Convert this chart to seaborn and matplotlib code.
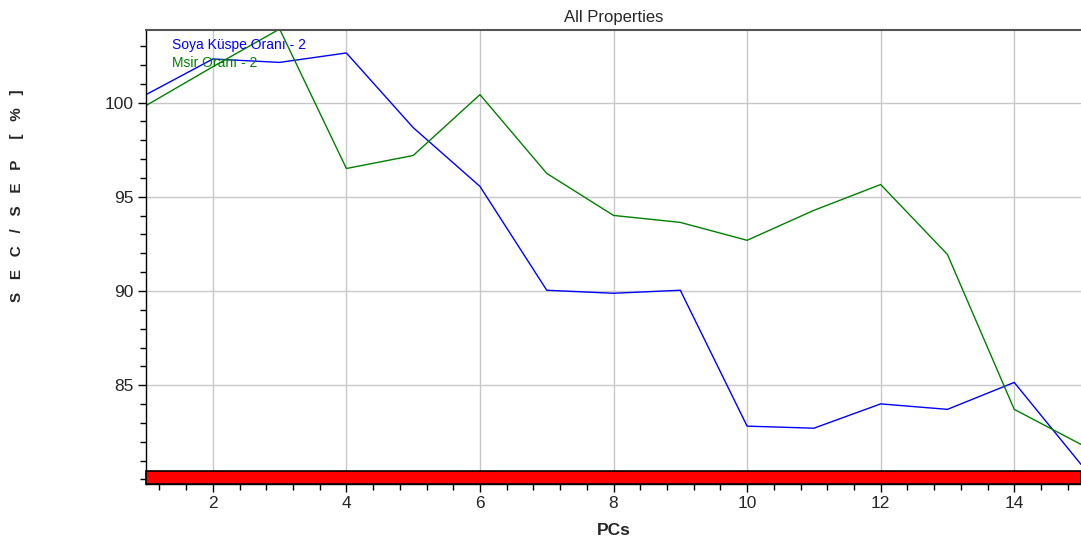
import numpy as np
import pandas as pd
import matplotlib
matplotlib.use('Agg')
import matplotlib.pyplot as plt
from matplotlib.patches import Rectangle
from matplotlib.ticker import MultipleLocator
import seaborn as sns

# data
pcs = list(range(1, 16))
soya = [100.42, 102.31, 102.13, 102.63, 98.67, 95.55, 90.04, 89.88, 90.04,
        82.83, 82.72, 84.01, 83.72, 85.15, 80.80]
msir = [99.84, 101.90, 103.90, 96.50, 97.19, 100.42, 96.24, 94.01, 93.64,
        92.69, 94.28, 95.65, 91.94, 83.72, 81.86]
names = ['Soya Küspe Oranı - 2', 'Msir Oranı - 2']
colors = ['#0000ff', '#008000']

df = pd.DataFrame({'PCs': pcs * 2,
                   'value': soya + msir,
                   'series': [names[0]] * len(pcs) + [names[1]] * len(pcs)})

sns.set_style('white')
plt.rcParams['font.family'] = ['Liberation Sans', 'DejaVu Sans']

fig = plt.figure(figsize=(10.81, 5.44), dpi=100)
ax = fig.add_axes([0.1351, 0.1103, 0.8649, 0.8346])

sns.lineplot(data=df, x='PCs', y='value', hue='series', palette=colors,
             legend=False, linewidth=1.0, ax=ax)

ax.set_xlim(1, 15)
ax.set_ylim(79.76, 103.85)
ax.xaxis.set_major_locator(MultipleLocator(2))
ax.xaxis.set_minor_locator(MultipleLocator(0.4))
ax.yaxis.set_major_locator(MultipleLocator(5))
ax.yaxis.set_minor_locator(MultipleLocator(1))
ax.set_yticks([85, 90, 95, 100])
ax.grid(True, which='major', color='#c8c8c8', linewidth=1.0)
ax.set_axisbelow(True)
ax.tick_params(which='major', direction='out', length=6, width=1, color='black',
               labelsize=12.5, left=True, bottom=True, pad=3)
ax.tick_params(which='minor', direction='out', length=4, width=1, color='black',
               left=True, bottom=True)

for side in ['left', 'bottom']:
    ax.spines[side].set_color('black')
    ax.spines[side].set_linewidth(1)
ax.spines['top'].set_color('#555555')
ax.spines['top'].set_linewidth(1.5)
ax.spines['right'].set_visible(False)

# red band along the bottom of the plot
ax.add_patch(Rectangle((0, 0), 1, 0.0286, transform=ax.transAxes,
                       facecolor='#ff0000', edgecolor='black', linewidth=1.2,
                       clip_on=False, zorder=5))

ax.set_title('All Properties', fontsize=12, pad=6)
ax.set_xlabel('PCs', fontsize=12.5, fontweight='bold', labelpad=8)
ax.set_ylabel('')
fig.text(0.016, 0.64, 'S   E   C   /   S   E   P     [   %   ]', rotation=90,
         fontsize=11, fontweight='bold', ha='center', va='center')

ax.text(0.028, 0.967, names[0], color=colors[0], fontsize=10,
        transform=ax.transAxes, va='center')
ax.text(0.028, 0.927, names[1], color=colors[1], fontsize=10,
        transform=ax.transAxes, va='center')

fig.savefig('out.png', dpi=100)
